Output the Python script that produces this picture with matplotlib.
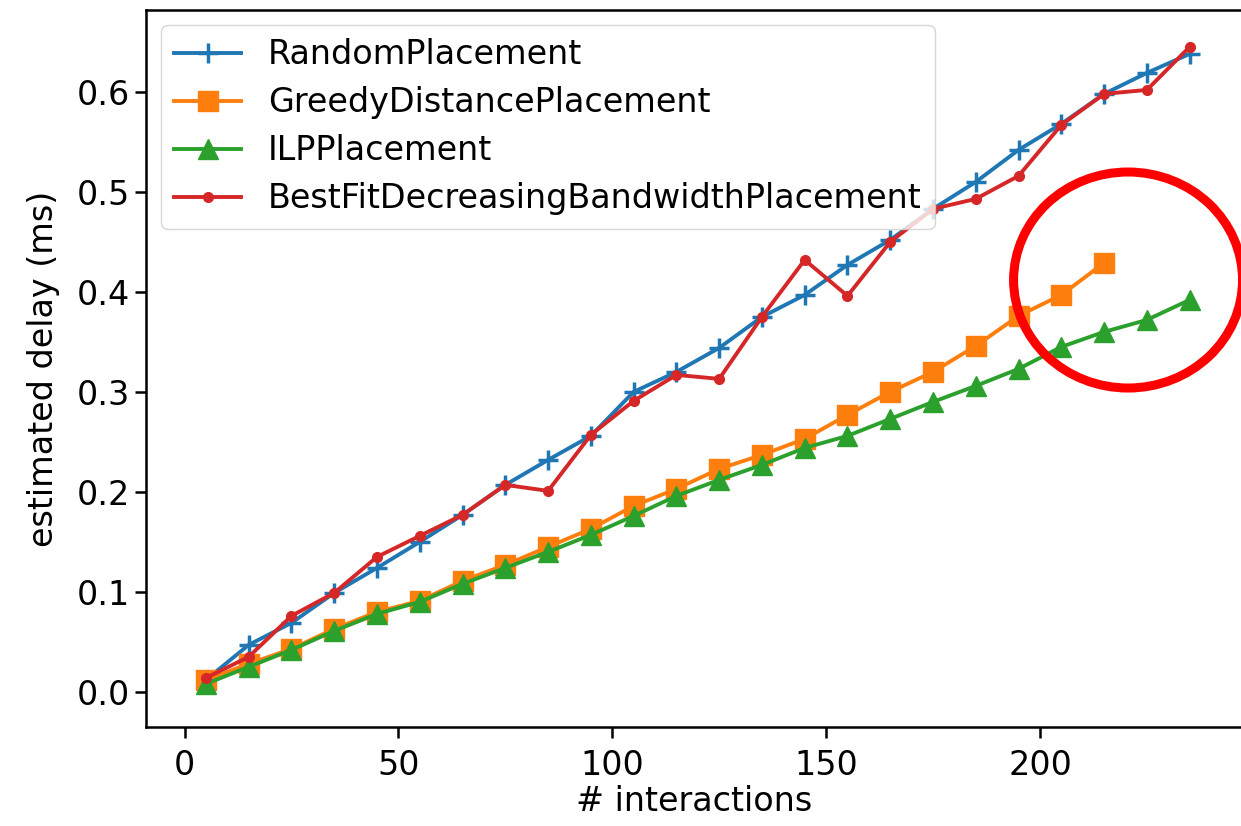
import matplotlib.pyplot as plt
from matplotlib.patches import Ellipse

# values
interactions = [5, 15, 25, 35, 45, 55, 65, 75, 85, 95, 105, 115,
                125, 135, 145, 155, 165, 175, 185, 195, 205, 215, 225, 235]
random_delay = [0.012, 0.047, 0.069, 0.099, 0.124, 0.150, 0.177, 0.207,
                0.232, 0.256, 0.300, 0.320, 0.344, 0.375, 0.397, 0.427,
                0.452, 0.483, 0.510, 0.542, 0.568, 0.598, 0.619, 0.638]
greedy_delay = [0.012, 0.028, 0.043, 0.063, 0.080, 0.091, 0.111, 0.127,
                0.145, 0.163, 0.186, 0.203, 0.223, 0.237, 0.253, 0.277,
                0.300, 0.320, 0.346, 0.376, 0.397, 0.429]
ilp_delay = [0.008, 0.025, 0.042, 0.061, 0.078, 0.090, 0.108, 0.124,
             0.140, 0.157, 0.176, 0.196, 0.212, 0.227, 0.244, 0.256,
             0.273, 0.290, 0.306, 0.323, 0.345, 0.360, 0.372, 0.392]
bestfit_delay = [0.014, 0.035, 0.076, 0.099, 0.135, 0.156, 0.177, 0.207,
                 0.201, 0.257, 0.291, 0.317, 0.313, 0.375, 0.432, 0.396,
                 0.450, 0.483, 0.493, 0.516, 0.567, 0.598, 0.602, 0.645]

fs = 24
lw = 2.8

fig = plt.figure(figsize=(12.41, 8.26), dpi=100)
ax = fig.add_axes([0.1177, 0.12, 0.884, 0.868])

ax.plot(interactions, random_delay, marker='+', markersize=15, mew=2.5,
        lw=lw, color='tab:blue', label='RandomPlacement')
ax.plot(interactions[:len(greedy_delay)], greedy_delay, marker='s', markersize=15,
        lw=lw, color='tab:orange', label='GreedyDistancePlacement')
ax.plot(interactions, ilp_delay, marker='^', markersize=15,
        lw=lw, color='tab:green', label='ILPPlacement')
ax.plot(interactions, bestfit_delay, marker='.', markersize=14,
        lw=lw, color='tab:red', label='BestFitDecreasingBandwidthPlacement')

ax.set_xlim(-9, 247.5)
ax.set_ylim(-0.035, 0.682)
ax.set_xticks([0, 50, 100, 150, 200])
ax.set_yticks([0.0, 0.1, 0.2, 0.3, 0.4, 0.5, 0.6])
ax.tick_params(labelsize=fs, length=8, width=1.8)
ax.tick_params(axis='x', pad=8)
for s in ax.spines.values():
    s.set_linewidth(1.8)

ax.set_xlabel('# interactions', fontsize=fs, labelpad=2)
ax.set_ylabel('estimated delay (ms)', fontsize=fs, labelpad=12)
ax.legend(loc='upper left', fontsize=fs, handlelength=2.0,
          borderaxespad=0.45, labelspacing=0.45, borderpad=0.4)

# red highlight circle around the end of the curves
fig.add_artist(Ellipse((0.909, 0.661), 0.1845, 0.2615, transform=fig.transFigure,
                       fill=False, edgecolor='red', lw=6.5, clip_on=False))

fig.savefig('out.png', dpi=100)
